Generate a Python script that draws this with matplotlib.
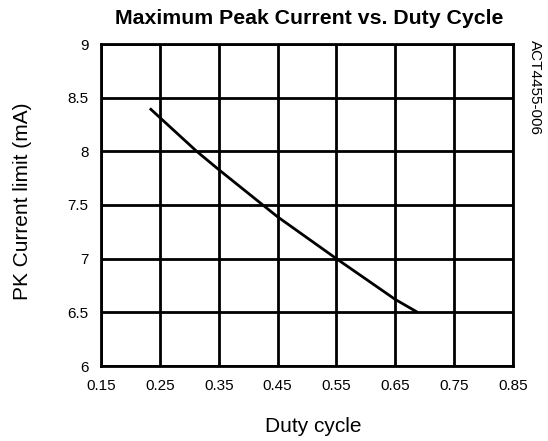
import matplotlib
matplotlib.use("Agg")
import matplotlib.pyplot as plt

plt.rcParams['font.family'] = ['Liberation Sans', 'DejaVu Sans']

# curve
duty = [0.233, 0.3126, 0.35, 0.425, 0.45, 0.55, 0.65, 0.688]
current = [8.40, 8.00, 7.83, 7.50, 7.39, 7.00, 6.62, 6.50]

x_ticks = [0.15, 0.25, 0.35, 0.45, 0.55, 0.65, 0.75, 0.85]
y_ticks = [6, 6.5, 7, 7.5, 8, 8.5, 9]

W, H = 548, 441
fig = plt.figure(figsize=(W / 100, H / 100), dpi=100)
ax = fig.add_axes([101 / W, 1 - 366 / H, 412 / W, 322 / H])

ax.plot(duty, current, color="black", linewidth=2.0, solid_capstyle="butt")

ax.set_xlim(0.15, 0.85)
ax.set_ylim(6, 9)
ax.set_xticks(x_ticks)
ax.set_xticklabels([f"{t:g}" for t in x_ticks])
ax.set_yticks(y_ticks)
ax.set_yticklabels([f"{t:g}" for t in y_ticks])
ax.grid(True, color="black", linewidth=2.0)
ax.tick_params(length=0, labelsize=11, pad=9)
for side in ax.spines.values():
    side.set_linewidth(2.0)

fig.text(309 / W, 1 - 19 / H, "Maximum Peak Current vs. Duty Cycle",
         fontsize=15.3, fontweight="bold", ha="center", va="center")
fig.text(313 / W, 1 - 426 / H, "Duty cycle", fontsize=15,
         ha="center", va="center")
fig.text(23 / W, 1 - 201 / H, "PK Current limit (mA)", fontsize=15,
         rotation=90, ha="center", va="center")
fig.text(535 / W, 1 - 88 / H, "ACT4455-006", rotation=-90,
         fontsize=11, ha="center", va="center")

fig.savefig("out.png", dpi=100)
